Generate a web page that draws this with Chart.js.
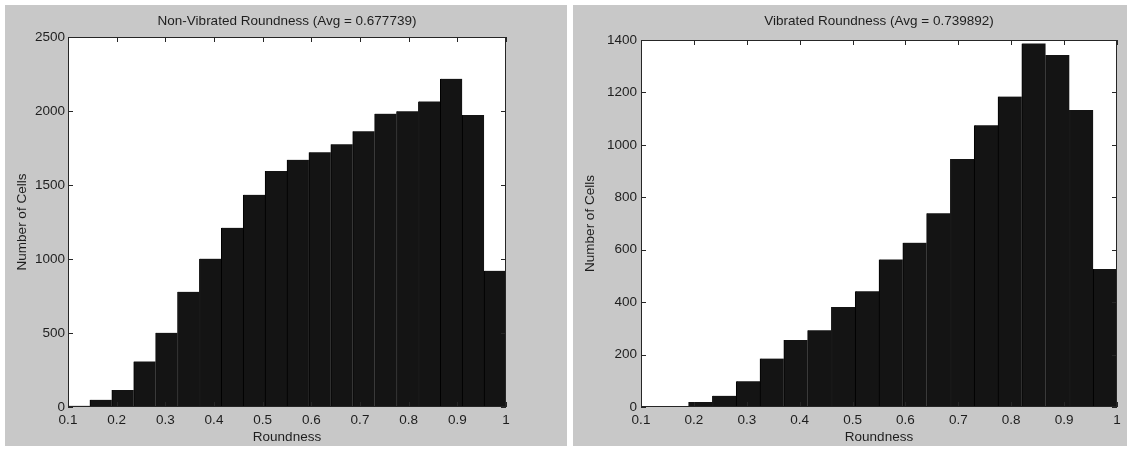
<!DOCTYPE html>
<html>
<head>
<meta charset="utf-8">
<script src="https://cdn.jsdelivr.net/npm/chart.js@4.4.1/dist/chart.umd.min.js"></script>
<style>
  html, body { margin: 0; padding: 0; background: #fff; }
  body { width: 1129px; height: 449px; position: relative; overflow: hidden; }
  .panel { position: absolute; top: 5px; height: 441px; background: #c8c8c8; }
  .panel canvas { display: block; }
  #panelLeft { left: 5px; width: 562px; }
  #panelRight { left: 573px; width: 554px; }
</style>
</head>
<body>
<div class="panel" id="panelLeft"><canvas id="chartLeft" width="562" height="441"></canvas></div>
<div class="panel" id="panelRight"><canvas id="chartRight" width="554" height="441"></canvas></div>
<script>
// histogram bins (20 bins between 0.1 and 1)
const binCenters = [0.1225, 0.1675, 0.2125, 0.2575, 0.3025, 0.3475, 0.3925, 0.4375, 0.4825, 0.5275,
                    0.5725, 0.6175, 0.6625, 0.7075, 0.7525, 0.7975, 0.8425, 0.8875, 0.9325, 0.9775];
const xTicks = [0.1, 0.2, 0.3, 0.4, 0.5, 0.6, 0.7, 0.8, 0.9, 1];

const nonVibratedCounts = [8, 49, 115, 308, 501, 779, 1002, 1211, 1434, 1595,
                           1670, 1721, 1775, 1863, 1982, 1998, 2065, 2218, 1973, 920];
const nonVibratedYTicks = [0, 500, 1000, 1500, 2000, 2500];

const vibratedCounts = [4, 4, 19, 43, 98, 185, 256, 293, 381, 442,
                        563, 627, 739, 946, 1075, 1184, 1387, 1343, 1133, 526];
const vibratedYTicks = [0, 200, 400, 600, 800, 1000, 1200, 1400];

const textColor = "#1e1e1e";
Chart.defaults.font.family = "'Liberation Sans', Arial, sans-serif";
Chart.defaults.font.size = 13.5;
Chart.defaults.color = textColor;

// white axes background, box and inward ticks like matlab
const matlabAxes = {
  id: "matlabAxes",
  beforeDraw(chart) {
    const { ctx, chartArea: a } = chart;
    ctx.save();
    ctx.fillStyle = "#ffffff";
    ctx.fillRect(a.left, a.top, a.right - a.left, a.bottom - a.top);
    ctx.restore();
  },
  afterDatasetsDraw(chart) {
    const { ctx, chartArea: a, scales: { x, y } } = chart;
    const len = 5;
    ctx.save();
    ctx.strokeStyle = "#262626";
    ctx.lineWidth = 1;
    ctx.beginPath();
    x.ticks.forEach(t => {
      const px = Math.round(x.getPixelForValue(t.value)) + 0.5;
      ctx.moveTo(px, a.top); ctx.lineTo(px, a.top + len);
      ctx.moveTo(px, a.bottom); ctx.lineTo(px, a.bottom - len);
    });
    y.ticks.forEach(t => {
      const py = Math.round(y.getPixelForValue(t.value)) + 0.5;
      ctx.moveTo(a.left, py); ctx.lineTo(a.left + len, py);
      ctx.moveTo(a.right, py); ctx.lineTo(a.right - len, py);
    });
    ctx.stroke();
    ctx.strokeRect(a.left + 0.5, a.top + 0.5, a.right - a.left - 1, a.bottom - a.top - 1);
    ctx.restore();
  }
};

// draws one histogram panel
function renderHistogram(canvasId, title, counts, yTicks, yMax, layout) {
  const canvas = document.getElementById(canvasId);
  if (!canvas) {
    console.error(`canvas '${canvasId}' not found`);
    return;
  }
  new Chart(canvas.getContext("2d"), {
    type: "bar",
    data: {
      datasets: [{
        data: binCenters.map((c, i) => ({ x: c, y: counts[i] })),
        backgroundColor: "#141414",
        borderColor: "#000000",
        borderWidth: { left: 1, right: 0, top: 0, bottom: 0 },
        borderSkipped: false,
        barPercentage: 1,
        categoryPercentage: 1
      }]
    },
    options: {
      responsive: false,
      animation: false,
      layout: { padding: { left: 0, top: 0, right: layout.padRight, bottom: 0 } },
      plugins: {
        legend: { display: false },
        tooltip: { enabled: false },
        title: {
          display: true,
          fullSize: false,
          text: title,
          color: textColor,
          font: { size: 13.5, weight: "normal" },
          padding: { top: 8, bottom: layout.titleGap }
        }
      },
      scales: {
        x: {
          type: "linear",
          min: 0.1,
          max: 1,
          offset: false,
          grid: { display: false, drawTicks: false },
          border: { display: false },
          afterBuildTicks: s => { s.ticks = xTicks.map(v => ({ value: v })); },
          afterFit: s => { s.height = 39; },
          ticks: { padding: 5, maxRotation: 0, autoSkip: false, callback: v => String(v) },
          title: { display: true, text: "Roundness", padding: { top: 0, bottom: 1 } }
        },
        y: {
          min: 0,
          max: yMax,
          grid: { display: false, drawTicks: false },
          border: { display: false },
          afterBuildTicks: s => { s.ticks = yTicks.map(v => ({ value: v })); },
          afterFit: s => { s.width = layout.axisWidth; },
          ticks: { padding: layout.tickPad, callback: v => String(v) },
          title: { display: true, text: "Number of Cells", padding: { top: 9, bottom: 0 } }
        }
      }
    },
    plugins: [matlabAxes]
  });
}

renderHistogram("chartLeft", "Non-Vibrated Roundness (Avg = 0.677739)", nonVibratedCounts,
  nonVibratedYTicks, 2500, { padRight: 61, titleGap: 7.8, axisWidth: 63, tickPad: 3 });
renderHistogram("chartRight", "Vibrated Roundness (Avg = 0.739892)", vibratedCounts,
  vibratedYTicks, 1400, { padRight: 10, titleGap: 10.8, axisWidth: 68, tickPad: 4 });
</script>
</body>
</html>
